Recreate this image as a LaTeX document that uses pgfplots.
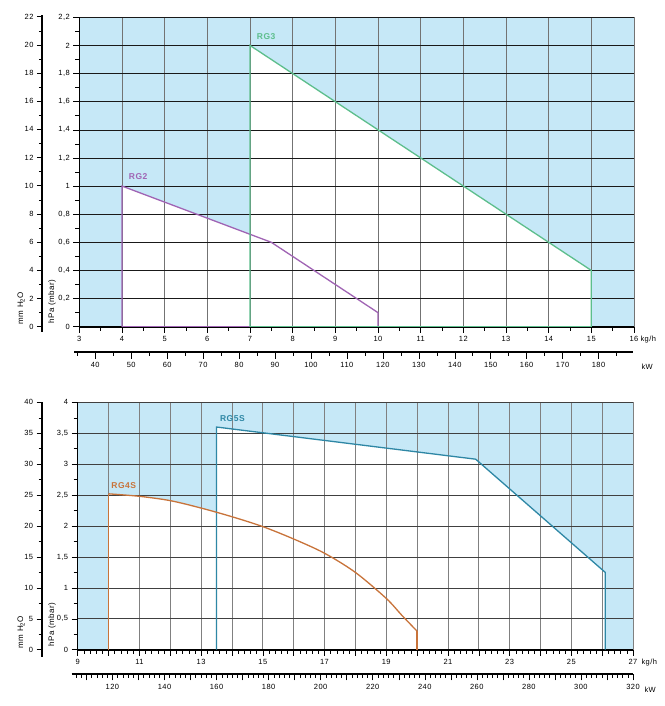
\documentclass[border=0pt]{standalone}
\usepackage{fontspec}
\setmainfont{Liberation Sans}[LetterSpace=6]
\usepackage{pgfplots}
\pgfplotsset{compat=1.18}

\definecolor{bgblue}{HTML}{C6E8F7}
\definecolor{rgtwo}{HTML}{A064B4}
\definecolor{rgthree}{HTML}{5DBE8C}
\definecolor{rgfour}{HTML}{C8733A}
\definecolor{rgfive}{HTML}{2E87A5}

\pgfplotsset{
  base/.style={
    scale only axis, anchor=south west, tick align=outside,
    /pgf/number format/assume math mode=true,
    /pgf/number format/use comma,
    tick label style={font=\fontsize{7.5}{8}\selectfont},
    tick style={black, line width=0.5pt},
    major tick length=5pt, minor tick length=3pt,
    axis line style={-},
  },
  chart/.style={
    base, set layers,
    axis x line*=bottom, axis y line*=left,
    x axis line style={line width=1.8pt},
    y axis line style={line width=0.6pt},
    grid=major,
    x grid style={black!55, line width=0.7pt},
    y grid style={black!90, line width=0.6pt},
    major tick length=6pt, minor tick length=4pt,
  },
  curve/.style={line width=1.3pt},
}
\tikzset{
  tag/.style={anchor=west, font=\bfseries\fontsize{8.5}{9}\selectfont},
  unit/.style={anchor=west, font=\fontsize{7.5}{8}\selectfont},
  side/.style={rotate=90, anchor=west, font=\fontsize{8}{9}\selectfont},
}

\begin{document}
\begin{tikzpicture}

% ---------- upper chart ----------
\begin{axis}[chart, at={(79.3pt,379.3pt)}, width=554.7pt, height=309.4pt,
  xmin=3, xmax=16, ymin=0, ymax=2.2,
  xtick={3,...,16}, minor x tick num=1,
  ytick={0,0.2,0.4,0.6,0.8,1,1.2,1.4,1.6,1.8,2,2.2}, minor y tick num=1]
  \addplot[on layer=axis background, fill=bgblue, draw=none]
    coordinates {(3,0) (16,0) (16,2.2) (3,2.2)};
  \addplot[on layer=axis background, fill=white, draw=none]
    coordinates {(4,0) (4,1) (7.5,0.6) (10,0.1) (10,0)};
  \addplot[on layer=axis background, fill=white, draw=none]
    coordinates {(7,0) (7,2) (15,0.4) (15,0)};
  \addplot[rgtwo, curve] coordinates {(4,0) (4,1) (7.5,0.6) (10,0.1) (10,0) (4,0)};
  \addplot[rgthree, curve] coordinates {(7,0) (7,2) (15,0.4) (15,0) (7,0)};
  \node[tag, text=rgtwo] at (axis cs:4.08,1.065) {RG2};
  \node[tag, text=rgthree] at (axis cs:7.08,2.063) {RG3};
\end{axis}

% mm H2O scale
\begin{axis}[base, at={(42pt,374pt)}, width=5pt, height=317pt,
  xmin=0, xmax=1, ymin=-0.38, ymax=22.12,
  hide x axis, axis y line*=left, y axis line style={line width=1.8pt},
  ytick={0,2,...,22}, minor y tick num=1]
  \addplot[draw=none] coordinates {(0,0)};
\end{axis}

% kW scale
\begin{axis}[base, at={(74pt,354.3pt)}, width=558.7pt, height=5pt,
  xmin=34.08, xmax=189.5, ymin=0, ymax=1,
  hide y axis, axis x line*=bottom, x axis line style={line width=1.8pt},
  xtick={40,50,...,180}, minor xtick={35,45,...,185},
  major tick length=7pt, minor tick length=4pt]
  \addplot[draw=none] coordinates {(40,0)};
\end{axis}

\node[unit] at (637pt,366pt) {kg/h};
\node[unit] at (638pt,339pt) {kW};
\node[side] at (21pt,378pt) {mm H\textsubscript{2}O};
\node[side] at (52pt,379pt) {hPa (mbar)};

% ---------- lower chart ----------
\begin{axis}[chart, at={(77.7pt,56.3pt)}, width=555.3pt, height=247.4pt,
  xmin=9, xmax=27, ymin=0, ymax=4,
  xtick={9,...,27},
  xticklabels={9,,11,,13,,15,,17,,19,,21,,23,,25,,27},
  minor x tick num=4,
  ytick={0,0.5,1,1.5,2,2.5,3,3.5,4}, minor y tick num=1,
  x grid style={black!50, line width=0.7pt},
  y grid style={black!75, line width=0.6pt}]
  \addplot[on layer=axis background, fill=bgblue, draw=none]
    coordinates {(9,0) (27,0) (27,4) (9,4)};
  \addplot[on layer=axis background, fill=white, draw=none]
    coordinates {(13.5,0) (13.5,3.6) (21.9,3.08) (26.1,1.25) (26.1,0)};
  \addplot[on layer=axis background, fill=white, draw=none, smooth]
    coordinates {(10,2.52) (11,2.48) (12,2.41) (13,2.29) (14,2.15) (15,1.99)
                 (16,1.79) (17,1.56) (18,1.25) (19,0.83) (19.5,0.56) (20,0.30)}
    \closedcycle;
  \addplot[rgfive, curve] coordinates {(13.5,0) (13.5,3.6) (21.9,3.08) (26.1,1.25) (26.1,0)};
  \addplot[rgfour, curve, smooth]
    coordinates {(10,2.52) (11,2.48) (12,2.41) (13,2.29) (14,2.15) (15,1.99)
                 (16,1.79) (17,1.56) (18,1.25) (19,0.83) (19.5,0.56) (20,0.30)};
  \addplot[rgfour, curve] coordinates {(10,0) (10,2.52)};
  \addplot[rgfour, curve] coordinates {(20,0.30) (20,0)};
  \node[tag, text=rgfour] at (axis cs:9.98,2.66) {RG4S};
  \node[tag, text=rgfive] at (axis cs:13.5,3.74) {RG5S};
\end{axis}

% mm H2O scale
\begin{axis}[base, at={(41.7pt,49.3pt)}, width=5pt, height=255pt,
  xmin=0, xmax=1, ymin=-1.13, ymax=40.1,
  hide x axis, axis y line*=left, y axis line style={line width=1.8pt},
  ytick={0,5,...,40}, minor y tick num=1]
  \addplot[draw=none] coordinates {(0,0)};
\end{axis}

% kW scale
\begin{axis}[base, at={(71.7pt,31.7pt)}, width=561.3pt, height=5pt,
  xmin=104.35, xmax=320, ymin=0, ymax=1,
  hide y axis, axis x line*=bottom, x axis line style={line width=1.8pt},
  xtick={120,140,...,320},
  extra x ticks={110,130,...,310}, extra x tick labels={},
  minor xtick={106,108,...,320},
  major tick length=6pt, minor tick length=3.5pt]
  \addplot[draw=none] coordinates {(120,0)};
\end{axis}

\node[unit] at (638pt,43pt) {kg/h};
\node[unit] at (641pt,16pt) {kW};
\node[side] at (21pt,54pt) {mm H\textsubscript{2}O};
\node[side] at (52pt,56pt) {hPa (mbar)};

\pgfresetboundingbox
\useasboundingbox (0,0) rectangle (664pt,706pt);
\end{tikzpicture}
\end{document}
